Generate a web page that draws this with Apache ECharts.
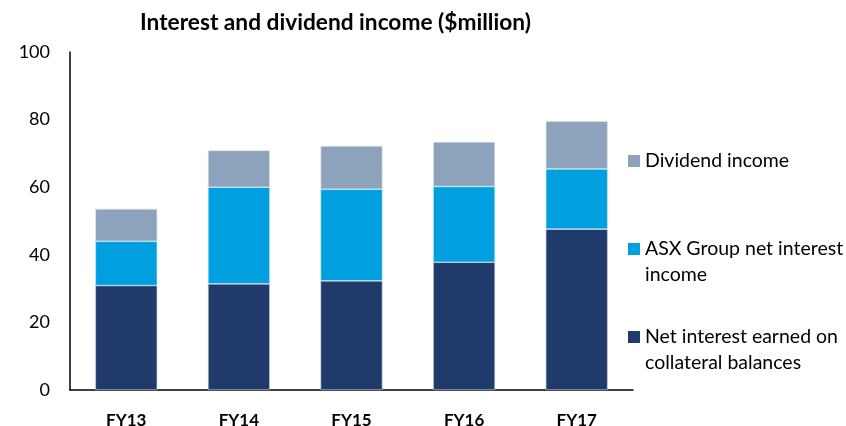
<!DOCTYPE html>
<html>
<head>
<meta charset="utf-8">
<script src="https://cdn.jsdelivr.net/npm/echarts@6/dist/echarts.min.js"></script>
<style>
  html, body { margin: 0; padding: 0; background: #ffffff; }
  #chart { width: 846px; height: 426px; }
</style>
</head>
<body>
<div id="chart"></div>
<script>
// Interest and dividend income, $million, by financial year
const categories = ['FY13', 'FY14', 'FY15', 'FY16', 'FY17'];
const collateralInterest = [30.9, 31.4, 32.3, 37.8, 47.6];
const groupInterest = [13.1, 28.6, 27.1, 22.4, 17.8];
const dividendIncome = [9.6, 10.9, 12.8, 13.2, 14.1];
const yTicks = [0, 20, 40, 60, 80, 100];

const NAMES = {
  coll: 'Net interest earned on\ncollateral balances',
  group: 'ASX Group net interest\nincome',
  div: 'Dividend income'
};
const FONT = 'Lato, "Open Sans", sans-serif';
const LINE_H = 26;
const SQ = 12;

// Two-line legend entries keep their square beside the first line:
// the icon path is a square at the top of a taller, otherwise empty box.
const TALL = SQ + LINE_H;
const TOP_SQUARE_ICON = 'path://M0,0L' + SQ + ',0L' + SQ + ',' + SQ + 'L0,' + SQ + 'Z' +
  'M0,' + TALL + 'L' + SQ + ',' + TALL;

function legendAt(name, top, twoLine) {
  return {
    data: [name],
    left: 628,
    top: top,
    padding: 0,
    orient: 'vertical',
    icon: twoLine ? TOP_SQUARE_ICON : 'rect',
    itemWidth: SQ,
    itemHeight: twoLine ? TALL : SQ,
    itemGap: 0,
    selectedMode: false,
    itemStyle: { borderWidth: 0 },
    textStyle: {
      fontFamily: FONT,
      fontSize: 19.5,
      color: '#000000',
      lineHeight: LINE_H
    }
  };
}

const chart = echarts.init(document.getElementById('chart'), null, { renderer: 'canvas' });

const barBase = {
  type: 'bar',
  stack: 'total',
  barWidth: '55%',
  emphasis: { disabled: true }
};

chart.setOption({
  animation: false,
  title: {
    text: 'Interest and dividend income ($million)',
    left: 135,
    top: 6,
    textStyle: { fontFamily: FONT, fontSize: 22.7, fontWeight: 'bold', color: '#000000' }
  },
  legend: [
    legendAt(NAMES.div, 148, false),
    legendAt(NAMES.group, 236, true),
    legendAt(NAMES.coll, 324, true)
  ],
  grid: {
    left: 70, right: 213, top: 52, bottom: 36,
    containLabel: false,
    outerBoundsMode: 'none'
  },
  xAxis: {
    type: 'category',
    data: categories,
    axisLine: { lineStyle: { color: '#000000', width: 1.5 } },
    axisTick: { show: false },
    axisLabel: {
      margin: 22,
      fontFamily: FONT,
      fontSize: 17,
      fontWeight: 'bold',
      color: '#000000'
    }
  },
  yAxis: {
    type: 'value',
    min: yTicks[0],
    max: yTicks[yTicks.length - 1],
    interval: yTicks[1] - yTicks[0],
    axisLine: { show: true, lineStyle: { color: '#000000', width: 1.5 } },
    axisTick: { show: false },
    splitLine: { show: false },
    axisLabel: {
      margin: 20,
      fontFamily: FONT,
      fontSize: 18,
      color: '#000000'
    }
  },
  series: [
    Object.assign({}, barBase, {
      name: NAMES.coll,
      data: collateralInterest,
      itemStyle: { color: '#1F3A6B', borderColor: '#c9d3e2', borderWidth: 0.6 }
    }),
    Object.assign({}, barBase, {
      name: NAMES.group,
      data: groupInterest,
      itemStyle: { color: '#00A0E0', borderColor: '#c9e6f5', borderWidth: 0.6 }
    }),
    Object.assign({}, barBase, {
      name: NAMES.div,
      data: dividendIncome,
      itemStyle: { color: '#8DA3BB', borderColor: '#dfe5ec', borderWidth: 0.6 }
    })
  ]
});
</script>
</body>
</html>
